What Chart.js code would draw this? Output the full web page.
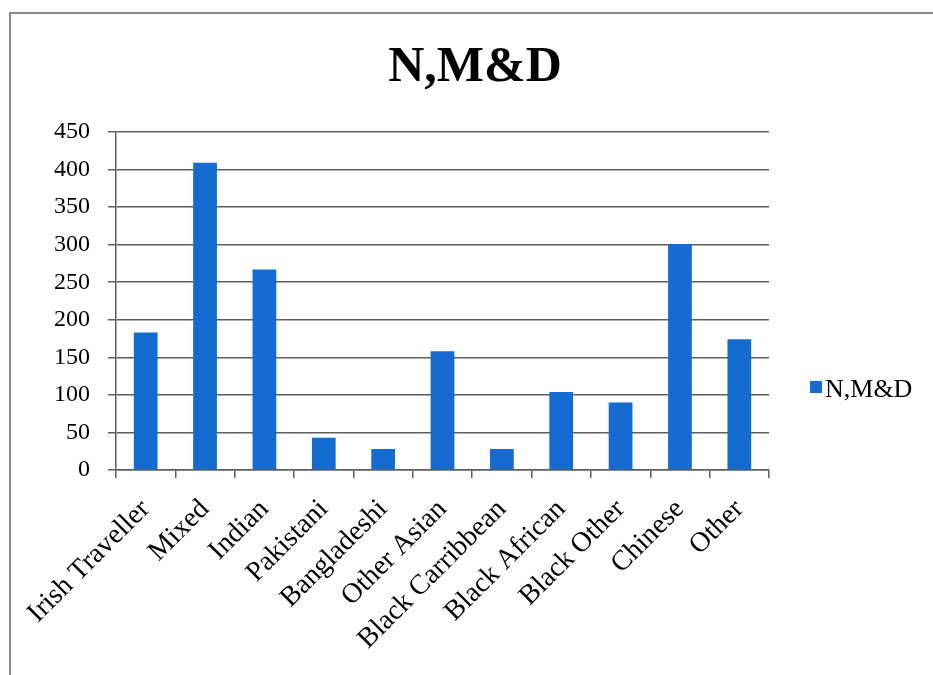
<!DOCTYPE html>
<html>
<head>
<meta charset="utf-8">
<title>N,M&amp;D</title>
<script src="https://cdn.jsdelivr.net/npm/chart.js@4/dist/chart.umd.min.js"></script>
<style>
  html, body { margin: 0; padding: 0; background: #ffffff; }
  body { width: 933px; height: 675px; position: relative; overflow: hidden; }
  #frame {
    position: absolute; left: 9px; top: 12px; width: 1000px; height: 1000px;
    border-left: 2px solid #8c8c8c; border-top: 2px solid #8c8c8c;
    box-sizing: border-box;
  }
  #wrap { position: absolute; left: 0; top: 0; width: 933px; height: 675px; }
</style>
</head>
<body>
<div id="frame"></div>
<div id="wrap"><canvas id="chart" width="933" height="675"></canvas></div>
<script>
// Ethnic groups and counts
const categories = [
  'Irish Traveller', 'Mixed', 'Indian', 'Pakistani', 'Bangladeshi',
  'Other Asian', 'Black Carribbean', 'Black African', 'Black Other',
  'Chinese', 'Other'
];
const seriesName = 'N,M&D';
const seriesValues = [183, 409, 267, 43, 28, 158, 28, 104, 90, 301, 174];
const yTicks = [0, 50, 100, 150, 200, 250, 300, 350, 400, 450];

const FONT = '"Liberation Serif", "Times New Roman", serif';
const BLUE = '#156BCF';
const GRID = '#5e5e5e';

// Legend entry drawn to the right of the plot area
const sideLegend = {
  id: 'sideLegend',
  afterDraw(chart) {
    const ctx = chart.ctx;
    const ds = chart.data.datasets[0];
    ctx.save();
    ctx.fillStyle = ds.backgroundColor;
    ctx.fillRect(810, 381, 12, 12);
    ctx.fillStyle = '#000';
    ctx.font = '26px ' + FONT;
    ctx.textBaseline = 'alphabetic';
    ctx.textAlign = 'left';
    ctx.fillText(ds.label, 825, 397);
    ctx.restore();
  }
};

new Chart(document.getElementById('chart'), {
  type: 'bar',
  data: {
    labels: categories,
    datasets: [{
      label: seriesName,
      data: seriesValues,
      backgroundColor: BLUE,
      borderWidth: 0,
      barPercentage: 0.4,
      categoryPercentage: 1.0,
      yAxisID: 'y'
    }]
  },
  options: {
    responsive: false,
    animation: false,
    layout: { padding: { left: 17, right: 0, top: 0, bottom: 0 } },
    plugins: {
      legend: { display: false },
      tooltip: { enabled: false },
      title: {
        display: true,
        text: seriesName,
        color: '#000',
        font: { family: FONT, size: 50, weight: 'bold' },
        padding: { top: 38, bottom: 34 }
      }
    },
    scales: {
      x: {
        ticks: {
          color: '#000',
          font: { family: FONT, size: 28 },
          maxRotation: 45,
          minRotation: 45,
          autoSkip: false,
          padding: 15
        },
        grid: {
          drawOnChartArea: false,
          drawTicks: true,
          tickLength: 8,
          color: GRID,
          lineWidth: 1.5
        },
        border: { color: GRID, width: 1.5 },
        afterFit(scale) { scale.height = 205; }
      },
      y: {
        min: 0,
        max: 450,
        afterBuildTicks(scale) { scale.ticks = yTicks.map(v => ({ value: v })); },
        ticks: {
          color: '#000',
          font: { family: FONT, size: 24 },
          padding: 18
        },
        grid: {
          color: GRID,
          lineWidth: 1.5,
          drawTicks: true,
          tickLength: 8
        },
        border: { color: GRID, width: 1.5 },
        afterFit(scale) { scale.width = 99; }
      },
      // empty right-hand strip that holds the legend
      side: {
        type: 'linear',
        position: 'right',
        display: true,
        ticks: { display: false },
        grid: { display: false },
        border: { display: false },
        afterFit(scale) { scale.width = 164; }
      }
    }
  },
  plugins: [sideLegend]
});
</script>
</body>
</html>
